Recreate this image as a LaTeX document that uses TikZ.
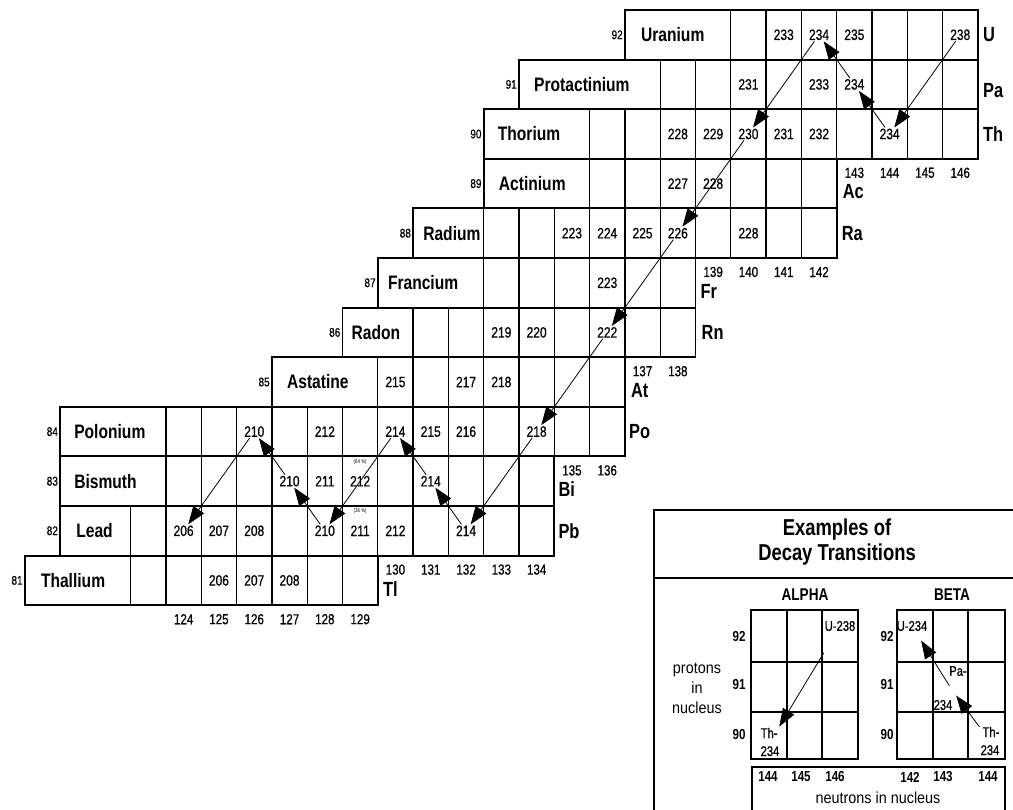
\documentclass[tikz,border=0pt]{standalone}
\usepackage{fontspec}
\setmainfont{Liberation Sans}
\newfontfamily\narrowsans[FakeStretch=0.8]{Liberation Sans}
\newfontfamily\narrowdark[FakeStretch=0.8,FakeBold=0.6]{Liberation Sans}
\newfontfamily\semisans[FakeStretch=0.9]{Liberation Sans}
\usetikzlibrary{arrows.meta}
\newcommand{\cellfont}{\narrowdark\fontsize{15}{16}\selectfont}
\newcommand{\zlabfont}{\narrowdark\fontsize{12.5}{13}\selectfont}
\newcommand{\elnamefont}{\narrowsans\bfseries\fontsize{19.5}{20}\selectfont}
\newcommand{\elsymfont}{\narrowsans\bfseries\fontsize{20.5}{21}\selectfont}
\newcommand{\collabfont}{\narrowdark\fontsize{14.5}{15}\selectfont}
\newcommand{\pctfont}{\narrowsans\fontsize{5.5}{6}\selectfont}
\newcommand{\legtitlefont}{\narrowsans\bfseries\fontsize{23}{25}\selectfont}
\newcommand{\legheadfont}{\narrowsans\bfseries\fontsize{17}{18}\selectfont}
\newcommand{\legisofont}{\narrowdark\fontsize{14}{18}\selectfont}
\newcommand{\legnumfont}{\narrowsans\bfseries\fontsize{14.5}{15}\selectfont}
\newcommand{\legsidefont}{\semisans\fontsize{16}{20}\selectfont}
\tikzset{
  rowline/.style={line width=1.9pt},
  gridline/.style={line width=1.3pt},
  leggrid/.style={line width=1.1pt},
  legframe/.style={line width=2.2pt},
  cnum/.style={font=\cellfont, inner sep=1pt},
  zlab/.style={font=\zlabfont, inner sep=1pt, anchor=east},
  elname/.style={font=\elnamefont, inner sep=0pt, anchor=west},
  elsym/.style={font=\elsymfont, inner sep=0pt, anchor=west},
  collab/.style={font=\collabfont, inner sep=1pt},
  pct/.style={font=\pctfont, inner sep=0pt},
  decay/.style={-{Triangle[length=18pt,width=13pt]}, line width=0.8pt},
  legtitle/.style={font=\legtitlefont, align=center, inner sep=0pt},
  leghead/.style={font=\legheadfont, inner sep=0pt},
  legiso/.style={font=\legisofont, inner sep=1pt},
  legnum/.style={font=\legnumfont, inner sep=0pt},
  legside/.style={font=\legsidefont, align=center, inner sep=0pt},
}
\begin{document}
\begin{tikzpicture}[x=1pt,y=-1pt]
\useasboundingbox (0,0) rectangle (1013,810);
\fill[white] (0,0) rectangle (1013,810);

% ---------------- chart of nuclides (column = N, row = Z) ----------------
\begin{scope}[x=35.3pt, y=49.6pt, shift={(-4211.2pt,-4573.2pt)}]
  \foreach \Z/\nm/\Na/\Nb/\Ne/\pad in {
      92/Uranium/137/140/146/16,
      91/Protactinium/134/138/146/15,
      90/Thorium/133/136/146/14,
      89/Actinium/133/136/142/15,
      88/Radium/131/133/142/10,
      87/Francium/130/133/138/10,
      86/Radon/129/131/138/9,
      85/Astatine/127/130/136/15,
      84/Polonium/121/124/136/14,
      83/Bismuth/121/124/134/14,
      82/Lead/121/123/134/16,
      81/Thallium/120/123/129/16} {
    \foreach \n in {\Nb,...,\Ne} \draw[gridline] (\n,\Z-1) -- (\n,\Z);
    \draw[rowline] (\Na,\Z-1) rectangle (\Ne+1,\Z);
    \node[zlab] (z\Z) at ([xshift=-1pt]\Na,\Z-0.5) {\Z};
    \node[elname] (name\Z) at ([xshift=\pad pt]\Na,\Z-0.5) {\nm};
  }
  % mass numbers
  \foreach \s/\Z/\cells in {
      U/92/{141/233,142/234,143/235,146/238},
      Pa/91/{140/231,142/233,143/234},
      Th/90/{138/228,139/229,140/230,141/231,142/232,144/234},
      Ac/89/{138/227,139/228},
      Ra/88/{135/223,136/224,137/225,138/226,140/228},
      Fr/87/{136/223},
      Rn/86/{133/219,134/220,136/222},
      At/85/{130/215,132/217,133/218},
      Po/84/{126/210,128/212,130/214,131/215,132/216,134/218},
      Bi/83/{127/210,128/211,129/212,131/214},
      Pb/82/{124/206,125/207,126/208,128/210,129/211,130/212,132/214},
      Tl/81/{125/206,126/207,127/208}} {
    \foreach \n/\a in \cells {
      \node[cnum] (\s\a) at (\n+0.5,\Z-0.5) {\a};
    }
  }
  \node[pct] (pct64) at ([yshift=-5.5pt]129.5,83) {(64 \%)};
  \node[pct] (pct36) at ([yshift=-5.5pt]129.5,82) {(36 \%)};
  % neutron-number labels
  \foreach \n in {143,...,146} \node[collab] (c\n) at ([yshift=-14pt]\n+0.5,89) {\n};
  \foreach \n in {139,...,142} \node[collab] (c\n) at ([yshift=-14pt]\n+0.5,87) {\n};
  \foreach \n in {137,138} \node[collab] (c\n) at ([yshift=-14pt]\n+0.5,85) {\n};
  \foreach \n in {135,136} \node[collab] (c\n) at ([yshift=-14pt]\n+0.5,83) {\n};
  \foreach \n in {130,...,134} \node[collab] (c\n) at ([yshift=-14pt]\n+0.5,81) {\n};
  \foreach \n in {124,...,129} \node[collab] (c\n) at ([yshift=-14pt]\n+0.5,80) {\n};
  % element symbols
  \node[elsym] (symU)  at ([xshift=5pt]147,91.5) {U};
  \node[elsym] (symPa) at ([xshift=5pt,yshift=-6pt]147,90.5) {Pa};
  \node[elsym] (symTh) at ([xshift=5pt]147,89.5) {Th};
  \node[elsym] (symAc) at ([xshift=6pt,yshift=-33pt]143,89) {Ac};
  \node[elsym] (symRa) at ([xshift=5pt]143,87.5) {Ra};
  \node[elsym] (symFr) at ([xshift=5pt,yshift=-33pt]139,87) {Fr};
  \node[elsym] (symRn) at ([xshift=6pt]139,85.5) {Rn};
  \node[elsym] (symAt) at ([xshift=6pt,yshift=-33pt]137,85) {At};
  \node[elsym] (symPo) at ([xshift=4pt]137,83.5) {Po};
  \node[elsym] (symBi) at ([xshift=4pt,yshift=-33pt]135,83) {Bi};
  \node[elsym] (symPb) at ([xshift=4pt]135,81.5) {Pb};
  \node[elsym] (symTl) at ([xshift=5pt,yshift=-33pt]130,81) {Tl};
\end{scope}

% decay chain
\draw[decay] (U238) -- (Th234);
\draw[decay] (Th234) -- (Pa234);
\draw[decay] (Pa234) -- (U234);
\draw[decay] (U234) -- (Th230);
\draw[decay] (Th230) -- (Ra226);
\draw[decay] (Ra226) -- (Rn222);
\draw[decay] (Rn222) -- (Po218);
\draw[decay] (Po218) -- (Pb214);
\draw[decay] (Pb214) -- (Bi214);
\draw[decay] (Bi214) -- (Po214);
\draw[decay] (Po214) -- (Pb210);
\draw[decay] (Pb210) -- (Bi210);
\draw[decay] (Bi210) -- (Po210);
\draw[decay] (Po210) -- (Pb206);

% ---------------- legend ----------------
\begin{scope}
  \clip (0,0) rectangle (1013,810);
  \draw[legframe] (654,830) -- (654,510) -- (1040,510);
  \draw[legframe] (654,578) -- (1040,578);
  \draw[leggrid] (752,830) -- (752,767) -- (1005,767) -- (1005,830);
\end{scope}
\node[legtitle] (title) at (837,542) {Examples of\\Decay Transitions};
\node[leghead] (alpha) at (805,595) {ALPHA};
\node[leghead] (beta) at (952,595) {BETA};
\draw[leggrid] (751,610) rectangle (858,759);
\foreach \x in {787,822} \draw[leggrid] (\x,610) -- (\x,759);
\foreach \y in {662,712} \draw[leggrid] (751,\y) -- (858,\y);
\draw[leggrid] (897,610) rectangle (1005,759);
\foreach \x in {933,968} \draw[leggrid] (\x,610) -- (\x,759);
\foreach \y in {662,712} \draw[leggrid] (897,\y) -- (1005,\y);
\node[legside] (protons) at (697,688) {protons\\in\\nucleus};
\foreach \z/\y in {92/637,91/685,90/735} {
  \node[legnum] (az\z) at (739,\y) {\z};
  \node[legnum] (bz\z) at (887,\y) {\z};
}
\node[legiso] (aU238) at (840,626) {U-238};
\node[legiso, align=left] (aTh234) at (770,742) {Th-\\234};
\node[legiso] (bU234) at (912,626) {U-234};
\node[legiso] (bPa) at (958,671) {Pa-};
\node[legiso] (bPa234) at (943,705) {234};
\coordinate (bPaC) at (952,690);
\node[legiso, align=right] (bTh234) at (990,741) {Th-\\234};
\draw[decay, shorten <=24pt] (aU238) -- (aTh234);
\draw[decay, shorten >=7pt] (bTh234) -- (bPaC);
\draw[decay, shorten <=5pt, shorten >=10pt] (bPaC) -- (bU234);
\foreach \n/\x in {144/768,145/801,146/835} \node[legnum] (an\n) at (\x,777) {\n};
\foreach \n/\x in {142/910,143/943,144/988} \node[legnum] (bn\n) at (\x,777) {\n};
\node[legside] (neutrons) at (878,798) {neutrons in nucleus};
\end{tikzpicture}
\end{document}
